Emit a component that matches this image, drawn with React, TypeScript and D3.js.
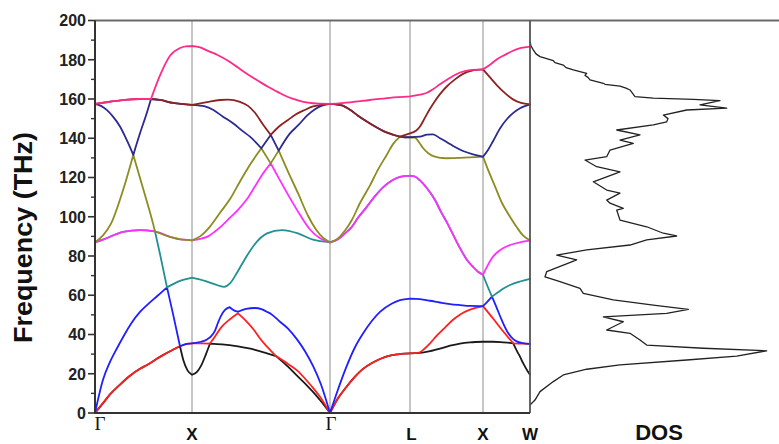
import React from "react";
import * as d3 from "d3";

type P = [number, number];

// High-symmetry points along the k-path (path coordinate, arbitrary units)
const symLabels = ["Γ", "X", "Γ", "L", "X", "W"];
const symPos = [0, 97, 235, 315, 388, 435];
const yMajor = [0, 20, 40, 60, 80, 100, 120, 140, 160, 180, 200];
const yMinor = [10, 30, 50, 70, 90, 110, 130, 150, 170, 190];

// ---- Γ → X branches (frequency in THz)
const gxTA: P[] = [[0,0],[8,5],[15,9.5],[25,14.5],[35,19],[45,22.5],[52,24.5],[60,27],[68,29.5],[77,32],[85,34],[92,35.2],[97,35.5]];
const gxLA: P[] = [[0,0],[8,17],[15,26],[22,33],[29,39.5],[36,45.5],[45,51.5],[52,55],[62,59.5],[72,64],[85,67.3],[97,69]];
const gxLO2: P[] = [[0,157.5],[6,156.5],[12,154.3],[18,151],[25,146],[30,141],[35,135.5],[38.3,131.5],[48.3,114],[58.3,96],[60,92.5],[65,81],[72,64],[78,50.5],[85,34],[88.3,27],[92.5,21.7],[97,19.5]];
const gxTO1: P[] = [[0,87],[8,88.3],[15,89.8],[28,92.3],[45,93.2],[60,92.5],[75,89.8],[88,88.3],[97,88]];
const gxLO1: P[] = [[0,87],[8,90.5],[16,96.5],[28,113.5],[38.3,131.5],[45,142.5],[51.7,152.7],[56,160],[65,172],[75,182],[85,186],[91,186.8],[97,187]];
const gxTO2: P[] = [[0,157.5],[15,158.6],[30,159.6],[45,160],[56,160],[65,159.5],[78,158],[97,157]];

// ---- X → Γ branches
const xgP: P[] = [[97,187],[105,186.3],[113,184.5],[123,182.3],[133,179.5],[143,176],[153,172.5],[163,169.3],[173,166.2],[183,163.5],[193,161],[203,159.3],[213,158.1],[224,157.6],[235,157.5]];
const xgA: P[] = [[97,157],[112,158.4],[125,159.5],[133,159.7],[145,158.5],[153,156.5],[160,153],[168,147],[175.7,141.7],[183.7,133.7],[193,123],[203,112],[213,100.5],[221,93.5],[228,89.3],[235,87]];
const xgB: P[] = [[97,157],[110,156.2],[118,154.5],[128,151],[138,147.6],[148,143.5],[155,140.8],[166.3,134.9],[175.7,127.2],[185,118.5],[195,109.5],[205,101],[215,93.5],[225,89],[235,87]];
const xgC: P[] = [[97,88],[105,90],[115,95],[125,102],[135,109],[145,118],[155,126.5],[166.3,134.9],[175.7,141.7],[184,146],[193,149.3],[201,152.2],[209.7,154.4],[218,156.2],[226.3,157],[235,157.5]];
const xgD: P[] = [[97,88],[105,88.7],[113,90],[120,92.5],[127,95.5],[135,99.5],[143,103.5],[152,109],[160,115.5],[168,122],[175.7,127.2],[183.7,133.7],[195,142.5],[203,146.5],[212,151.5],[220,154.8],[227,156.6],[235,157.5]];
const xgTeal: P[] = [[97,69],[110,67.3],[120,65.5],[129,64.3],[135,66],[142,71.5],[150,78.5],[159,85.5],[172,91.5],[187,93.2],[203,91.5],[218,88.3],[235,87]];
const xgBlack: P[] = [[97,19.5],[102,21],[106,24],[111,30],[115,35.4],[127,35],[143,33.9],[160,32.2],[172,30.4],[181,29],[193,23.6],[202,19],[213,13.5],[218,10.8],[226,6],[235,0]];
const xgRed: P[] = [[97,35.5],[106,35.5],[115,35.4],[120,39],[126,43.5],[135,47.8],[143,50.8],[151,47],[159,42.3],[165,38],[172,33.8],[181,29],[193,25],[202,21.7],[213,15.8],[218,12.8],[226,7.5],[235,0]];
const xgBlue: P[] = [[97,35.5],[106,36.3],[112,37.5],[116,39],[120,42],[123,46],[126,49.5],[130,52.5],[134.7,53.9],[139,52.3],[143,51.6],[151,53],[159.7,53.5],[167,52.8],[171.7,51.6],[176,50.5],[185,46.5],[193,43],[202,37.5],[210,31.5],[218,24],[226,14.5],[235,0]];

// ---- Γ → L branches
const glTA: P[] = [[235,0],[243,7.5],[251,13],[260,18.5],[268,22.5],[277,25.5],[285,27.5],[297,29.5],[306,30.1],[315,30.4]];
const glLA: P[] = [[235,0],[243,12],[251,23],[260,33.5],[268,40.5],[277,47],[285,51.5],[297,55.8],[305,57.5],[315,58.3]];
const glTO1: P[] = [[235,87],[243,88.5],[250,91.5],[257,95],[263,99.5],[271,104.5],[280,110.5],[288,115],[297,118.5],[305,120.3],[315,121]];
const glLO1: P[] = [[235,87],[243,89],[250,93],[257,98.5],[265,107],[275,116],[283,124],[291.7,131.5],[298,137],[305,140.8],[315,142.5]];
const glTO2: P[] = [[235,157.5],[242,157.2],[247,156.7],[255,154.5],[263,151.5],[271,148.8],[280,146],[289,143.5],[297,142],[305,140.8],[310,140.5],[315,140.5]];
const glLO2: P[] = [[235,157.5],[255,158.3],[275,159.5],[295,160.6],[315,161.3]];

// ---- L → X branches
const lxBlack: P[] = [[315,30.4],[325,30.6],[335,31.5],[345,32.8],[355,34.3],[365,35.4],[375,36],[388,36.3]];
const lxRed: P[] = [[315,30.4],[323,30.6],[330,33],[335,35.5],[342,39.5],[350,43.5],[358,47.5],[366,50.5],[375,52.7],[388,54.5]];
const lxBlue: P[] = [[315,58.3],[325,58],[335,57.2],[345,56.3],[355,55.5],[365,55],[375,54.6],[388,54.5]];
const lxTO1: P[] = [[315,121],[320,120.5],[325,118.5],[332,114.5],[340,108.5],[346,102.5],[352,97],[358,91],[365,84],[372,78],[378,74.5],[383,72],[388,70.5]];
const lxOlive: P[] = [[315,140.5],[320,140.3],[324,138],[328,135],[333,132.5],[339,130.8],[351,129.8],[365,130],[388,130.6]];
const lxNavy: P[] = [[315,140.5],[325,140.8],[332,141.8],[338,142],[345,140],[352,138],[360,135.5],[368,133.5],[378,131.8],[388,130.6]];
const lxMaroon: P[] = [[315,142.5],[321,143.8],[325,146],[330,150.5],[335,155],[340,159],[345,162.5],[352,166.5],[360,170],[368,172.8],[377,174.5],[388,175.1]];
const lxPink: P[] = [[315,161.3],[325,162.2],[332,163.2],[338,165],[345,167.5],[355,170.8],[365,173.5],[375,174.7],[388,175.1]];

// ---- X → W branches
const xwPink: P[] = [[388,175.1],[395,177.5],[402,180.3],[410,182.5],[418,184.6],[426,186],[435,186.7]];
const xwMaroon: P[] = [[388,175.1],[395,171],[402,167],[410,163],[418,159.8],[426,158],[435,157.3]];
const xwNavy: P[] = [[388,130.6],[393,134],[398,138.5],[405,145],[412,149.8],[418,152.8],[425,155.3],[435,157.3]];
const xwOlive: P[] = [[388,130.6],[393,124],[400,115.5],[407,107],[415,100],[422,94.5],[428,90.5],[435,88]];
const xwMagenta: P[] = [[388,70.5],[393,75.5],[397,79],[402,81.8],[408,84],[415,85.6],[425,87],[435,87.8]];
const xwTeal: P[] = [[388,70.5],[391,66.5],[394,62.8],[397,59.3],[403,61.5],[408,63.3],[415,65.2],[425,67],[435,68.3]];
const xwBlue: P[] = [[388,54.5],[392,56.5],[397,59.3],[401,54.5],[406.7,47.4],[413.3,40.6],[418,37.8],[421.7,36.5],[428,35.6],[435,35.2]];
const xwRed: P[] = [[388,54.5],[398.3,48],[408.3,41.5],[418.3,35.5],[427,35.3],[435,35.2]];
const xwBlack: P[] = [[388,36.3],[398,36.3],[408,36],[415,35.7],[418.3,35.5],[422,31.5],[425,28.7],[428,25.5],[430,23.6],[433,21],[435,19.5]];

// ---- Phonon DOS: [frequency THz, DOS a.u.]
const dosCurve: P[] = [
  [189.5,0],[187,0.01],[185,0.033],[183,0.06],[181.6,0.1],[179.5,0.233],[178.5,0.25],[177.3,0.333],[176,0.36],[174.8,0.433],[173.1,0.567],[172,0.55],[171,0.58],[169.7,0.6],[168,0.733],[167.5,0.75],[166.6,0.9],[165.5,0.96],[164.6,1.0],[161.2,1.05],[160.4,1.233],[159.8,1.633],[159.2,1.9],[157,1.7],[155.3,1.967],[154.4,1.567],[151.8,1.333],[150,1.38],[148.4,1.367],[146.8,1.233],[144.2,0.867],[141.7,1.1],[139.1,0.9],[137.4,1.033],[134,0.8],[130.6,0.767],[128.9,0.55],[125.5,0.667],[122.9,0.9],[117.8,0.633],[113.6,0.767],[112,0.9],[108.5,0.767],[106.9,0.8],[104.3,0.933],[103.4,0.867],[98.3,0.9],[94.9,1.167],[91.6,1.333],[90.2,1.467],[88.2,1.167],[85.6,1.0],[83.1,0.567],[80.5,0.267],[78,0.467],[75.4,0.333],[72,0.167],[69.4,0.15],[66.9,0.3],[63.5,0.5],[61,0.533],[57.6,0.833],[55,1.233],[52.8,1.583],[50.8,1.367],[49,0.733],[46.5,0.933],[42.3,0.767],[40.6,1.0],[37.2,1.1],[34.6,1.167],[33,1.733],[31.7,2.367],[29,2.067],[27,1.567],[24.5,0.9],[22.3,0.567],[19.4,0.333],[16,0.233],[10.9,0.1],[6.6,0.05],[4.1,0]
];

type Piece = [P[], number, number];
const bandColors = ["#1a1a1a", "#ff2020", "#1f1fff", "#229090", "#ff30ff", "#8c8c22", "#2a2a90", "#8c2222", "#ff2a8a"];
const bandPieces: Piece[][] = [
  [[gxTA,0,85],[gxLO2,85,97],[xgBlack,97,115],[xgBlack,115,181],[xgBlack,181,235],[glTA,235,315],[lxBlack,315,388],[xwBlack,388,418.3],[xwBlack,418.3,435]],
  [[gxTA,0,97],[xgRed,97,115],[xgRed,115,143],[xgRed,143,181],[xgRed,181,235],[glTA,235,315],[lxRed,315,388],[xwRed,388,418.3],[xwRed,418.3,435]],
  [[gxLA,0,72],[gxLO2,72,85],[gxTA,85,97],[xgBlue,97,134.7],[xgBlue,134.7,143],[xgBlue,143,235],[glLA,235,315],[lxBlue,315,388],[xwBlue,388,397],[xwBlue,397,435]],
  [[gxTO1,0,60],[gxLO2,60,72],[gxLA,72,97],[xgTeal,97,235],[glTO1,235,315],[lxTO1,315,388],[xwTeal,388,397],[xwTeal,397,435]],
  [[gxTO1,0,97],[xgD,97,175.7],[xgB,175.7,235],[glTO1,235,315],[lxTO1,315,388],[xwMagenta,388,435]],
  [[gxLO1,0,38.3],[gxLO2,38.3,60],[gxTO1,60,97],[xgC,97,166.3],[xgB,166.3,175.7],[xgD,175.7,183.7],[xgA,183.7,235],[glLO1,235,305],[glTO2,305,315],[lxOlive,315,388],[xwOlive,388,435]],
  [[gxLO2,0,38.3],[gxLO1,38.3,56],[gxTO2,56,97],[xgB,97,166.3],[xgC,166.3,175.7],[xgA,175.7,183.7],[xgD,183.7,235],[glTO2,235,315],[lxNavy,315,388],[xwNavy,388,435]],
  [[gxTO2,0,97],[xgA,97,175.7],[xgC,175.7,235],[glTO2,235,305],[glLO1,305,315],[lxMaroon,315,388],[xwMaroon,388,435]],
  [[gxTO2,0,56],[gxLO1,56,97],[xgP,97,235],[glLO2,235,315],[lxPink,315,388],[xwPink,388,435]],
];

const W = 779, H = 444;
const X0 = 95, X1 = 530, Y0 = 413, Y1 = 20.5;

export default function App() {
  const x = d3.scaleLinear().domain([0, 435]).range([X0, X1]);
  const y = d3.scaleLinear().domain([0, 200]).range([Y0, Y1]);
  const xd = d3.scaleLinear().domain([0, 2.49]).range([X1, W]);

  const line = d3.line<P>().x(d => x(d[0])).y(d => y(d[1])).curve(d3.curveMonotoneX);
  const slice = (arr: P[], a: number, b: number) => arr.filter(p => p[0] >= a - 1e-6 && p[0] <= b + 1e-6);
  const dosLine = d3.line<P>().x(d => xd(d[1])).y(d => y(d[0])).curve(d3.curveLinear);

  const sans = "'Liberation Sans', Arial, Helvetica, sans-serif";
  const serif = "'Liberation Serif', 'Times New Roman', serif";

  return (
    <svg width={W} height={H} style={{ position: "absolute", left: 0, top: 0, background: "#fff" }}>
      <rect x={0} y={0} width={W} height={H} fill="#fff" />
      {symPos.slice(1, 5).map((s, i) => (
        <line key={"v" + i} x1={x(s)} x2={x(s)} y1={Y1} y2={Y0} stroke="#a0a0a0" strokeWidth={1.2} />
      ))}
      <g fill="none" strokeLinecap="round" strokeLinejoin="round">
        {bandPieces.map((pieces, i) => (
          <path key={"b" + i} d={pieces.map(([arr, a, b]) => line(slice(arr, a, b)) || "").join("")} stroke={bandColors[i]} strokeWidth={1.8} />
        ))}
      </g>
      <path d={dosLine(dosCurve) || ""} fill="none" stroke="#222" strokeWidth={1.3} strokeLinejoin="round" />
      <line x1={X0} x2={W} y1={Y1} y2={Y1} stroke="#6a6a6a" strokeWidth={2} />
      <line x1={X1} x2={X1} y1={Y1} y2={Y0} stroke="#555" strokeWidth={1.8} />
      <line x1={X0} x2={X1} y1={Y0} y2={Y0} stroke="#333" strokeWidth={2} />
      <line x1={X0} x2={X0} y1={Y1} y2={Y0 + 1} stroke="#333" strokeWidth={2} />
      {yMajor.map(v => (
        <line key={"M" + v} x1={X0 - 7} x2={X0} y1={y(v)} y2={y(v)} stroke="#333" strokeWidth={1.6} />
      ))}
      {yMinor.map(v => (
        <line key={"m" + v} x1={X0 - 4} x2={X0} y1={y(v)} y2={y(v)} stroke="#333" strokeWidth={1.4} />
      ))}
      {yMajor.map(v => (
        <text key={"t" + v} x={86} y={y(v)} dy="0.36em" textAnchor="end" fontFamily={sans} fontWeight="bold" fontSize={16} fill="#222">{v}</text>
      ))}
      <text transform="translate(32,237.5) rotate(-90)" textAnchor="middle" fontFamily={sans} fontWeight="bold" fontSize={25} fill="#111" textLength={211} lengthAdjust="spacingAndGlyphs">Frequency (THz)</text>
      {symLabels.map((lab, i) => {
        const isG = lab === "Γ";
        let cx = x(symPos[i]);
        if (i === 0) cx += 5;
        if (i === 2) cx += 1;
        if (i === 3) cx += 1.5;
        return (
          <text key={"x" + i} x={cx} y={isG ? 430 : 440} textAnchor="middle" fontFamily={isG ? serif : sans} fontWeight={isG ? "normal" : "bold"} fontSize={isG ? 19 : 17} fill="#111">{lab}</text>
        );
      })}
      <text x={659} y={440} textAnchor="middle" fontFamily={sans} fontWeight="bold" fontSize={22} fill="#111">DOS</text>
    </svg>
  );
}
